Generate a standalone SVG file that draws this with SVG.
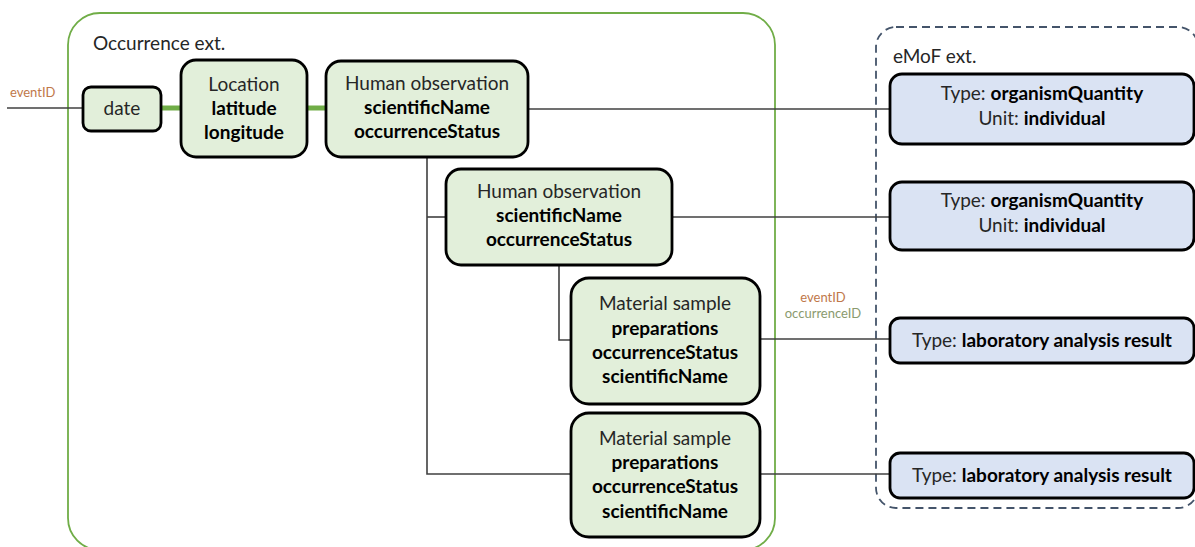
<svg xmlns="http://www.w3.org/2000/svg" width="1195" height="547" viewBox="0 0 1195 547">
<style>
text{font-family:Lato,"Liberation Sans",sans-serif;}
.t{font-size:19px;fill:#262626;text-anchor:middle;}
.b{font-weight:bold;fill:#000;}
.g{fill:#E2EFDA;stroke:#000;stroke-width:2.8;}
.bl{fill:#DAE3F3;stroke:#000;stroke-width:2.8;}
.c{fill:none;stroke:#404040;stroke-width:1.6;}
.gc{fill:none;stroke:#70AD47;stroke-width:5;}
.lab{font-size:19px;fill:#262626;}
.ev{font-size:13px;fill:#C0784A;}
.oc{font-size:13px;fill:#8A9A6E;}
</style>
<rect id="occurrence-ext" x="68" y="13" width="707" height="537" rx="32" fill="none" stroke="#70AD47" stroke-width="1.8"/>
<text class="lab" x="93" y="50">Occurrence ext.</text>
<rect id="emof-ext" x="876" y="27" width="322" height="481" rx="20" fill="none" stroke="#44546A" stroke-width="1.8" stroke-dasharray="8 5"/>
<text class="lab" x="893" y="63">eMoF ext.</text>
<g id="connectors">
<line class="c" x1="7" y1="108" x2="83" y2="108"/>
<line class="gc" x1="161" y1="108" x2="181" y2="108"/>
<line class="gc" x1="307" y1="108" x2="326" y2="108"/>
<line class="c" x1="528" y1="109" x2="890" y2="109"/>
<polyline class="c" points="427,157 427,474 571,474"/>
<line class="c" x1="427" y1="217" x2="446" y2="217"/>
<line class="c" x1="672" y1="217" x2="890" y2="217"/>
<polyline class="c" points="559,265 559,340 571,340"/>
<line class="c" x1="760" y1="339" x2="890" y2="339"/>
<line class="c" x1="760" y1="474" x2="890" y2="474"/>
<text class="ev" x="10" y="97">eventID</text>
<text class="ev" x="823" y="302" text-anchor="middle">eventID</text>
<text class="oc" x="823" y="318" text-anchor="middle">occurrenceID</text>
</g>
<g id="date">
<rect class="g" x="83" y="87" width="78" height="44" rx="8"/>
<text class="t" x="122" y="115">date</text>
</g>
<g id="location">
<rect class="g" x="181" y="60" width="126" height="97" rx="15"/>
<text class="t" x="244" y="91">Location</text>
<text class="t b" x="244" y="115">latitude</text>
<text class="t b" x="244" y="139">longitude</text>
</g>
<g id="human-observation-1">
<rect class="g" x="326" y="61" width="202" height="96" rx="15"/>
<text class="t" x="427" y="90">Human observation</text>
<text class="t b" x="427" y="114">scientificName</text>
<text class="t b" x="427" y="138">occurrenceStatus</text>
</g>
<g id="human-observation-2">
<rect class="g" x="446" y="169" width="226" height="96" rx="15"/>
<text class="t" x="559" y="198">Human observation</text>
<text class="t b" x="559" y="222">scientificName</text>
<text class="t b" x="559" y="246">occurrenceStatus</text>
</g>
<g id="material-sample-1">
<rect class="g" x="571" y="278" width="189" height="126" rx="18"/>
<text class="t" x="665" y="310">Material sample</text>
<text class="t b" x="665" y="335">preparations</text>
<text class="t b" x="665" y="359">occurrenceStatus</text>
<text class="t b" x="665" y="383">scientificName</text>
</g>
<g id="material-sample-2">
<rect class="g" x="571" y="413" width="189" height="124" rx="18"/>
<text class="t" x="665" y="445">Material sample</text>
<text class="t b" x="665" y="469">preparations</text>
<text class="t b" x="665" y="493">occurrenceStatus</text>
<text class="t b" x="665" y="518">scientificName</text>
</g>
<g id="emof-1">
<rect class="bl" x="890" y="74" width="304" height="70" rx="12"/>
<text class="t" x="1042" y="100">Type: <tspan class="b">organismQuantity</tspan></text>
<text class="t" x="1042" y="125">Unit: <tspan class="b">individual</tspan></text>
</g>
<g id="emof-2">
<rect class="bl" x="890" y="182" width="304" height="68" rx="12"/>
<text class="t" x="1042" y="207">Type: <tspan class="b">organismQuantity</tspan></text>
<text class="t" x="1042" y="232">Unit: <tspan class="b">individual</tspan></text>
</g>
<g id="emof-3">
<rect class="bl" x="890" y="318" width="304" height="45" rx="10"/>
<text class="t" x="1042" y="347">Type: <tspan class="b">laboratory analysis result</tspan></text>
</g>
<g id="emof-4">
<rect class="bl" x="890" y="453" width="304" height="45" rx="10"/>
<text class="t" x="1042" y="482">Type: <tspan class="b">laboratory analysis result</tspan></text>
</g>
</svg>
